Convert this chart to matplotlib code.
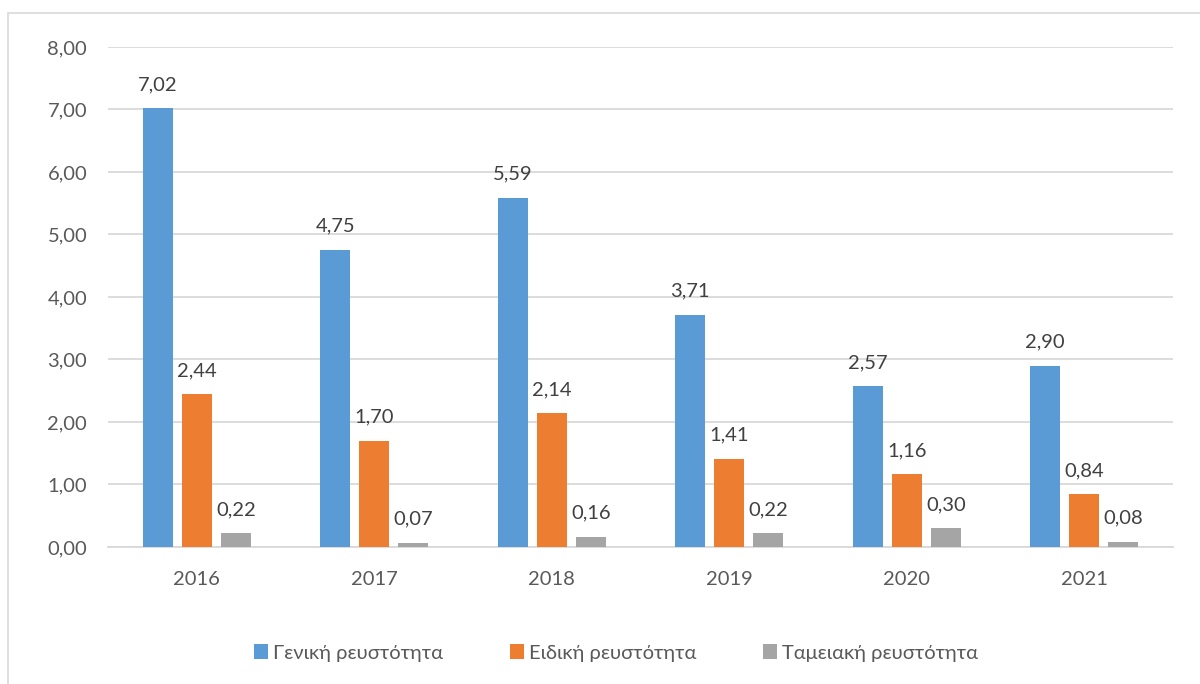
import matplotlib.pyplot as plt
import matplotlib.patches as mpatches
import numpy as np

plt.rcParams['font.family'] = ['Lato', 'DejaVu Sans']

years = ['2016', '2017', '2018', '2019', '2020', '2021']
general = [7.02, 4.75, 5.59, 3.71, 2.57, 2.90]
special = [2.44, 1.70, 2.14, 1.41, 1.16, 0.84]
cash = [0.22, 0.07, 0.16, 0.22, 0.30, 0.08]
names = ['Γενική ρευστότητα', 'Ειδική ρευστότητα', 'Ταμειακή ρευστότητα']
colors = ['#5B9BD5', '#ED7D31', '#A5A5A5']

fig = plt.figure(figsize=(12, 6.84), dpi=100)
ax = fig.add_axes([0.09, 0.2003, 0.8875, 0.731])

# chart frame
fig.patches.append(mpatches.Rectangle((8 / 1200, -0.01), 1.02, 1 - 13 / 684 + 0.01,
                                      transform=fig.transFigure, fill=False,
                                      edgecolor='#D9D9D9', linewidth=1.2))

x = np.arange(len(years))
w = 0.17
step = 0.22
for i, (vals, name, c) in enumerate(zip([general, special, cash], names, colors)):
    pos = x + (i - 1) * step
    ax.bar(pos, vals, width=w, color=c, label=name, zorder=3)
    for p, v in zip(pos, vals):
        ax.annotate(f'{v:.2f}'.replace('.', ','), (p, v), xytext=(0, 11),
                    textcoords='offset points', ha='center', va='bottom',
                    fontsize=14.5, color='#404040')

ax.set_xlim(-0.5, len(years) - 0.5)
ax.set_ylim(0, 8)
ax.set_yticks(np.arange(0, 9, 1))
ax.set_yticklabels([f'{t:.2f}'.replace('.', ',') for t in range(9)])
ax.set_xticks(x)
ax.set_xticklabels(years)
ax.tick_params(length=0, labelsize=14.5, colors='#595959', pad=17)
ax.tick_params(axis='y', pad=15)
ax.grid(axis='y', color='#D9D9D9', linewidth=1.3, zorder=0)
for s in ['top', 'right', 'left']:
    ax.spines[s].set_visible(False)
ax.spines['bottom'].set_color('#D9D9D9')
ax.spines['bottom'].set_linewidth(1.3)

ax.legend(loc='center', bbox_to_anchor=(0.477, -0.212), ncol=3, frameon=False,
          fontsize=14.5, handlelength=0.7, handleheight=0.7, handletextpad=0.25,
          columnspacing=3.3, labelcolor='#595959')

fig.savefig('out.png', dpi=100)
